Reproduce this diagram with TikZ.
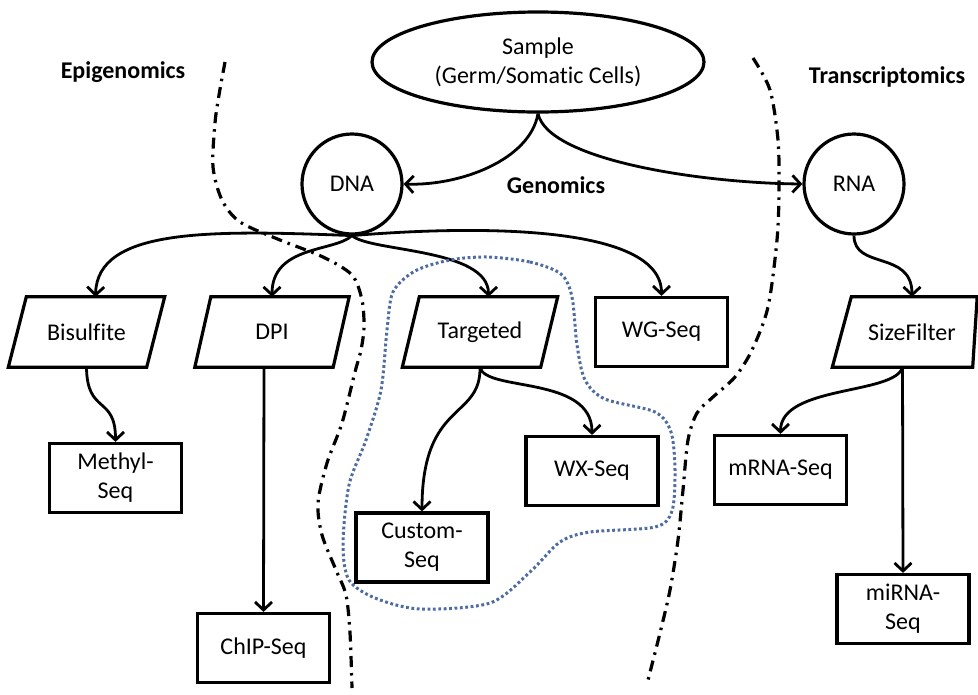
\documentclass[tikz,border=0pt]{standalone}
\usepackage{fontspec}
\setmainfont[Ligatures=NoCommon]{Carlito}
\usetikzlibrary{shapes.geometric,arrows.meta}
\definecolor{dotblue}{RGB}{78,108,158}

% outline of a slanted (data) box around a plain rectangular node
\newcommand\slantframe[2]{%
  \draw[frame] ([xshift=#2]#1.north west) -- ([xshift=#2]#1.north east)
    -- ([xshift=-#2]#1.south east) -- ([xshift=-#2]#1.south west) -- cycle;}

\begin{document}
\begin{tikzpicture}[x=1pt,y=-1pt,
  every node/.style={font=\fontsize{24}{29}\selectfont},
  frame/.style={draw, line width=3.2pt, line join=miter},
  box/.style={frame, rectangle, minimum width=132pt, minimum height=69pt,
              inner sep=0pt, align=center},
  slantbody/.style={rectangle, minimum width=138pt, minimum height=70pt, inner sep=0pt},
  roundnode/.style={frame, circle, minimum size=100pt, inner sep=0pt},
  conn/.style={line width=2.8pt, -{Straight Barb[length=8pt,width=17pt]}},
  divider/.style={line width=3.2pt, dash pattern=on 11pt off 6pt on 2.5pt off 6pt},
  grouping/.style={dotblue, line width=3pt, dash pattern=on 2.8pt off 2.6pt},
  region/.style={font=\fontsize{24}{29}\selectfont\bfseries}]

\useasboundingbox (0,0) rectangle (978,694);

% region labels
\node[region] (epi) at (123,72) {Epigenomics};
\node[region] (gen) at (556,185) {Genomics};
\node[region] (tra) at (887,77) {Transcriptomics};

% sample and nucleic acids
\node[frame, ellipse, minimum width=332pt, minimum height=100pt, inner sep=0pt, align=center]
  (sample) at (538,62) {Sample\\(Germ/Somatic Cells)};
\node[roundnode] (dna) at (352,184) {DNA};
\node[roundnode] (rna) at (854,184) {RNA};

% preparation steps (slanted boxes)
\node[slantbody] (bis) at (86.5,332) {Bisulfite};
\node[slantbody] (dpi) at (272,332) {DPI};
\node[slantbody] (tgt) at (480,332) {Targeted};
\node[slantbody, minimum width=140pt] (szf) at (912,332) {SizeFilter};
\slantframe{bis}{9}
\slantframe{dpi}{8}
\slantframe{tgt}{8.5}
\draw[frame] ([xshift=9.5]szf.north west) -- ([xshift=-5]szf.north east)
  -- ([xshift=-9.5]szf.south east) -- ([xshift=-9.5]szf.south west) -- cycle;

% sequencing assays
\node[box] (wgs) at (661.5,332) {WG-Seq};
\node[box] (methyl) at (115.5,478) {Methyl-\\Seq};
\node[box] (chip) at (263.5,648) {ChIP-Seq};
\node[box] (custom) at (422,547.5) {Custom-\\Seq};
\node[box] (wxs) at (592,471) {WX-Seq};
\node[box] (mrna) at (780.5,470) {mRNA-Seq};
\node[box] (mirna) at (903,609) {miRNA-\\Seq};

% connectors
\draw[conn] (sample.south) .. controls (530,160) and (460,186) .. (dna.east);
\draw[conn] (sample.south) .. controls (548,160) and (700,183) .. (rna.west);

\draw[conn] (dna.south) .. controls (210,230) and (97,228) .. ([xshift=9]bis.north);
\draw[conn] (dna.south) .. controls (335,252) and (272,245) .. (dpi.north);
\draw[conn] (dna.south) .. controls (370,252) and (488.5,248) .. ([xshift=8.5]tgt.north);
\draw[conn] (dna.south) .. controls (480,225) and (661.5,225) .. (wgs.north);

\draw[conn] (bis.south) .. controls (87,415) and (115.5,395) .. (methyl.north);
\draw[conn] ([xshift=-8]dpi.south) -- (chip.north);
\draw[conn] (tgt.south) .. controls (481,420) and (422,400) .. (custom.north);
\draw[conn] (tgt.south) .. controls (485,392) and (592,375) .. (wxs.north);

\draw[conn] (rna.south) .. controls (854,270) and (912,250) .. (szf.north);
\draw[conn] ([xshift=-9.5]szf.south) .. controls (895,395) and (780.5,385) .. (mrna.north);
\draw[conn] ([xshift=-9.5]szf.south) -- (mirna.north);

% dividing lines between the three fields
\draw[divider] plot[smooth] coordinates {
  (225,62) (219,95) (215,123) (213,167) (222,200) (240,222) (280,240)
  (323,257) (352,275) (362,300) (364,327) (361,350) (355,372) (342,423)
  (327,463) (318,503) (322,535) (336,570) (346,595) (350,633) (352,688)};
\draw[divider] plot[smooth] coordinates {
  (753,58) (770,90) (778,140) (779,190) (777,240) (768,307) (752,350)
  (735,377) (713,397) (697,413) (688,440) (683,490) (678,540) (670,590)
  (660,633) (648,680)};

% targeted assays grouping
\draw[grouping] plot[smooth cycle] coordinates {
  (487,257) (530,262) (561,274) (572,297) (577,345) (585,380) (605,399)
  (655,412) (671,432) (675,470) (672,511) (655,527) (590,532) (560,542)
  (530,572) (490,603) (420,609) (375,598) (349,580) (343,545) (349,485)
  (366,440) (381,390) (387,330) (393,292) (415,271) (450,260)};

\end{tikzpicture}
\end{document}
